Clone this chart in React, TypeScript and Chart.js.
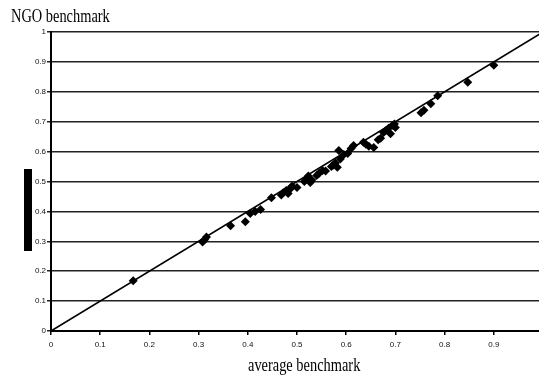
import React, { useEffect, useRef } from "react";
import { Chart, registerables } from "chart.js";

Chart.register(...registerables);

// Scatter data: average benchmark (x) vs NGO benchmark (y)
const xValues = [
  0.167, 0.308, 0.312, 0.316, 0.365, 0.395, 0.405, 0.415, 0.426, 0.448,
  0.468, 0.472, 0.478, 0.482, 0.487, 0.49, 0.5, 0.515, 0.52, 0.523,
  0.527, 0.53, 0.54, 0.545, 0.552, 0.558, 0.57, 0.574, 0.578, 0.582,
  0.585, 0.588, 0.595, 0.603, 0.61, 0.615, 0.635, 0.64, 0.646, 0.656,
  0.665, 0.67, 0.676, 0.68, 0.686, 0.69, 0.694, 0.7, 0.698, 0.752,
  0.758, 0.772, 0.786, 0.847, 0.9,
];
const yValues = [
  0.168, 0.298, 0.305, 0.314, 0.352, 0.365, 0.393, 0.4, 0.406, 0.446,
  0.455, 0.462, 0.47, 0.46, 0.477, 0.485, 0.48, 0.5, 0.51, 0.518,
  0.497, 0.505, 0.52, 0.528, 0.537, 0.535, 0.55, 0.555, 0.562, 0.548,
  0.604, 0.575, 0.59, 0.594, 0.61, 0.62, 0.631, 0.625, 0.618, 0.614,
  0.64, 0.645, 0.664, 0.67, 0.678, 0.66, 0.688, 0.681, 0.692, 0.73,
  0.738, 0.76, 0.787, 0.832, 0.889,
];

// Reference diagonal y = x
const lineX = [0, 1];
const lineY = [0, 1];

const axisMin = 0;
const axisMax = 1;
const tickStep = 0.1;

const xAxisTitle = "average benchmark";
const yAxisTitle = "NGO benchmark";

const fmt = (v: number) => {
  if (Math.abs(v) < 1e-9) return "0";
  if (Math.abs(v - 1) < 1e-9) return "1";
  return v.toFixed(1);
};

const decorPlugin = {
  id: "decor",
  afterDraw(chart: any) {
    const ctx = chart.ctx as CanvasRenderingContext2D;
    ctx.save();
    ctx.fillStyle = "#000";
    ctx.fillRect(24, 169, 8, 82);
    ctx.font = '18px "Liberation Serif"';
    ctx.textBaseline = "alphabetic";
    ctx.textAlign = "left";
    ctx.save();
    ctx.translate(11, 22);
    ctx.scale(0.8, 1);
    ctx.fillText(yAxisTitle, 0, 0);
    ctx.restore();
    ctx.save();
    ctx.translate(248, 371);
    ctx.scale(0.8, 1);
    ctx.fillText(xAxisTitle, 0, 0);
    ctx.restore();
    ctx.restore();
  },
};

export default function App() {
  const canvasRef = useRef<HTMLCanvasElement | null>(null);

  useEffect(() => {
    if (!canvasRef.current) return;
    const points = xValues.map((x, i) => ({ x, y: yValues[i] }));
    const line = lineX.map((x, i) => ({ x, y: lineY[i] }));
    const tickFont = { family: "Liberation Sans", size: 8 };
    const chart = new Chart(canvasRef.current, {
      type: "scatter",
      data: {
        datasets: [
          {
            type: "line",
            data: line,
            borderColor: "#000",
            borderWidth: 1.6,
            pointRadius: 0,
            fill: false,
            order: 2,
          } as any,
          {
            type: "scatter",
            data: points,
            pointStyle: "rectRot",
            pointRadius: 4.5,
            backgroundColor: "#000",
            borderColor: "#000",
            borderWidth: 0,
            order: 1,
          } as any,
        ],
      },
      options: {
        responsive: false,
        animation: false,
        events: [],
        layout: { padding: { left: 0, top: 32, right: 17, bottom: 0 } },
        plugins: {
          legend: { display: false },
          tooltip: { enabled: false },
          title: { display: false },
        },
        scales: {
          x: {
            type: "linear",
            min: axisMin,
            max: axisMax,
            ticks: {
              stepSize: tickStep,
              autoSkip: false,
              maxRotation: 0,
              padding: 5,
              color: "#111",
              font: tickFont,
              callback: (v: any) => (Math.abs(v - 1) < 1e-9 ? "" : fmt(v)),
            },
            grid: {
              drawOnChartArea: false,
              drawTicks: true,
              tickLength: 4,
              color: "#000",
              lineWidth: 1.5,
            },
            border: { color: "#000", width: 2 },
            afterFit: (s: any) => {
              s.height = 54;
            },
          },
          y: {
            type: "linear",
            min: axisMin,
            max: axisMax,
            ticks: {
              stepSize: tickStep,
              autoSkip: false,
              padding: 1,
              color: "#111",
              font: tickFont,
              callback: (v: any) => fmt(v),
            },
            grid: {
              color: "#222",
              lineWidth: 1.5,
              tickLength: 4,
            },
            border: { color: "#000", width: 2 },
            afterFit: (s: any) => {
              s.width = 51;
            },
          },
        },
      },
      plugins: [decorPlugin],
    });
    return () => chart.destroy();
  }, []);

  return (
    <div
      style={{
        position: "fixed",
        left: 0,
        top: 0,
        width: 539,
        height: 385,
        overflow: "hidden",
        background: "#fff",
      }}
    >
      <canvas ref={canvasRef} width={560} height={385} style={{ display: "block" }} />
    </div>
  );
}
